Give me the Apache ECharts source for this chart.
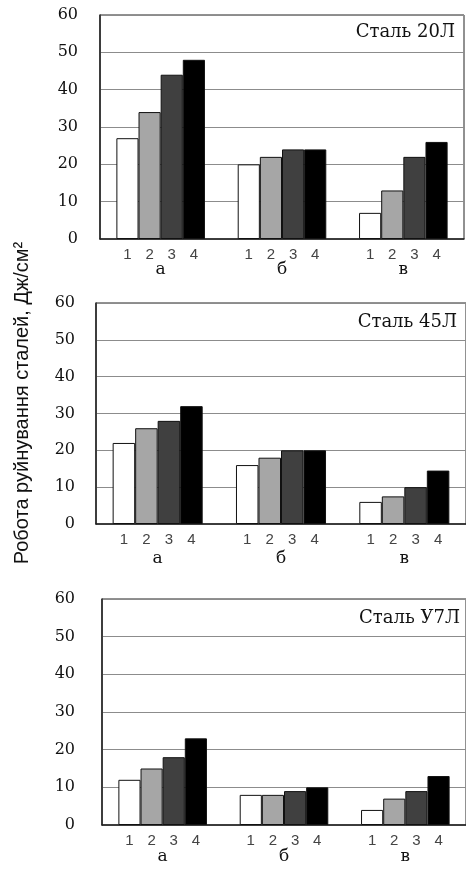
<!DOCTYPE html>
<html>
<head>
<meta charset="utf-8">
<script src="https://cdn.jsdelivr.net/npm/echarts@6/dist/echarts.min.js"></script>
<style>html,body{margin:0;padding:0;background:#fff}#c{width:466px;height:869px}</style>
</head>
<body>
<div id="c"></div>
<script>
// Categories and series
const categories = ['а', 'б', 'в'];
const seriesNames = ['1', '2', '3', '4'];
const yMin = 0, yMax = 60, yInterval = 10;
const panelTitles = ['Сталь 20Л', 'Сталь 45Л', 'Сталь У7Л'];
const yAxisTitle = 'Робота руйнування сталей, Дж/см²';

// Сталь 20Л, series 1..4 over categories а, б, в
const steel20_1 = [27, 20, 7];
const steel20_2 = [34, 22, 13];
const steel20_3 = [44, 24, 22];
const steel20_4 = [48, 24, 26];
// Сталь 45Л
const steel45_1 = [22, 16, 6];
const steel45_2 = [26, 18, 7.5];
const steel45_3 = [28, 20, 10];
const steel45_4 = [32, 20, 14.5];
// Сталь У7Л
const steelU7_1 = [12, 8, 4];
const steelU7_2 = [15, 8, 7];
const steelU7_3 = [18, 9, 9];
const steelU7_4 = [23, 10, 13];

const panelData = [
  [steel20_1, steel20_2, steel20_3, steel20_4],
  [steel45_1, steel45_2, steel45_3, steel45_4],
  [steelU7_1, steelU7_2, steelU7_3, steelU7_4]
];

const barColors = ['#ffffff', '#a6a6a6', '#404040', '#000000'];
const grids = [
  {left: 100, right: 2, top: 15, height: 224},
  {left: 96, right: -2, top: 303, height: 221},
  {left: 102, right: -3, top: 599, height: 226}
];
const xLabelMargin = [22, 26, 23];
const yLabelMargin = [22, 21, 27];
const titlePos = [[455, 32], [457, 322], [460, 618]];

const serif = 'DejaVu Serif';
const option = {
  animation: false,
  backgroundColor: '#fff',
  grid: grids.map(g => Object.assign({show: true, borderColor: '#222', borderWidth: 1, backgroundColor: 'transparent'}, g)),
  xAxis: grids.map((g, i) => ({
    type: 'category', gridIndex: i, data: categories,
    axisTick: {show: false},
    axisLine: {lineStyle: {color: '#222', width: 1.5}},
    axisLabel: {margin: xLabelMargin[i], fontFamily: serif, fontSize: 17, color: '#111'}
  })),
  yAxis: grids.map((g, i) => ({
    type: 'value', gridIndex: i, min: yMin, max: yMax, interval: yInterval,
    axisLine: {show: true, lineStyle: {color: '#222', width: 1.5}},
    axisTick: {show: false},
    splitLine: {lineStyle: {color: '#8c8c8c', width: 1}},
    axisLabel: {margin: yLabelMargin[i], fontFamily: serif, fontSize: 16, color: '#111'}
  })),
  series: [],
  graphic: []
};

panelData.forEach((panel, p) => {
  panel.forEach((vals, s) => {
    option.series.push({
      type: 'bar', name: seriesNames[s], xAxisIndex: p, yAxisIndex: p,
      data: vals,
      barGap: '0%', barCategoryGap: '27%',
      itemStyle: {color: barColors[s], borderColor: '#111', borderWidth: 1},
      label: {show: true, position: 'bottom', distance: 8, formatter: seriesNames[s],
        fontFamily: 'Liberation Sans', fontSize: 15, color: '#444'}
    });
  });
  option.graphic.push({
    type: 'text', x: titlePos[p][0], y: titlePos[p][1],
    style: {text: panelTitles[p], font: '18px "DejaVu Serif"', fill: '#111', align: 'right', verticalAlign: 'middle'}
  });
});

option.graphic.push({
  type: 'text', x: 22, y: 403, rotation: Math.PI / 2,
  style: {text: yAxisTitle, font: '20px "Liberation Sans"', fill: '#111', align: 'center', verticalAlign: 'middle'}
});

const chart = echarts.init(document.getElementById('c'), null, {renderer: 'canvas'});
chart.setOption(option);
</script>
</body>
</html>
